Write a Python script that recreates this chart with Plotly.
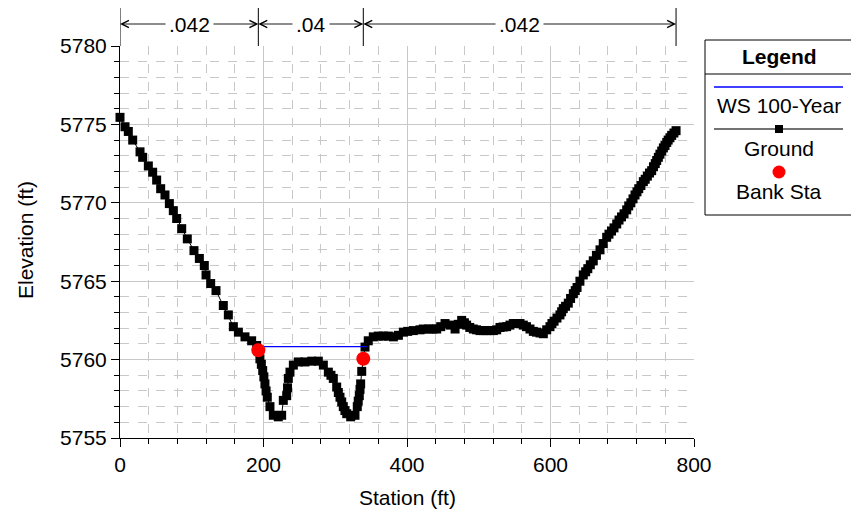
import plotly.graph_objects as go

# ---------------- data ----------------
ground_sta = [0, 7, 11.6, 17.7, 27.9, 31.6, 39.5, 45.5, 51.1, 56.7, 62.7, 68.8, 74.3, 79, 86,
              93.8, 103.1, 110.6, 117.5, 119.9, 126.4, 133.8, 144, 151, 158, 165, 174.2, 183.5,
              190.5, 192.8, 195, 197, 198.9, 200.5, 202, 203.6, 205.3, 209, 213.7, 220.6, 225.3,
              227.6, 232.3, 233.5, 234.6, 236.9, 241.6, 248.5, 257.8, 267.2, 276.4, 283.4, 290.4,
              294, 297.3, 302, 304.3, 306.6, 309, 311.2, 313.5, 316, 321.5, 327.5, 330.7, 332,
              333.5, 334.5, 335.4, 336.9, 339.1, 341.5, 346, 353, 360, 367, 374, 381, 388, 394.9,
              401, 408.8, 418.1, 422.7, 430, 436, 441.4, 447, 453, 460, 467, 471.5, 476.2, 480,
              483.1, 487.5, 492.4, 497, 501.7, 506.5, 511, 515.5, 520.3, 525, 529.6, 534, 538.9,
              543.5, 548.2, 553, 557.5, 562.1, 566.5, 571.4, 576.1, 580.5,
              585.4, 590, 594.7, 599.3, 602, 605, 609, 613.2, 615.5, 617.8, 621, 624.8, 628,
              631.8, 634.5, 637, 641, 645.7, 649, 652, 655.5, 659.6, 664, 669, 673.5, 678.3,
              681.5, 685, 688.5, 692.3, 695.5, 699, 702.5, 706.2, 709, 712, 715, 717.8, 720.5,
              723, 726, 729.4, 732, 735, 738, 741, 743.5, 746, 748, 750.3, 752.5, 755, 757.3,
              759.6, 762, 764, 766.5, 768.9, 772, 775]
ground_elev = [5775.45, 5774.85, 5774.55, 5774.0, 5773.25, 5772.9, 5772.35, 5771.95, 5771.45,
               5770.9, 5770.5, 5769.95, 5769.5, 5769.0, 5768.35, 5767.7, 5766.95, 5766.45,
               5766.0, 5765.4, 5764.85, 5764.4, 5763.45, 5762.85, 5762.1, 5761.75, 5761.45,
               5761.2, 5760.9, 5760.6, 5760.05, 5759.7, 5759.3, 5758.9, 5758.45, 5758.0, 5757.6,
               5757.0, 5756.45, 5756.35, 5756.45, 5757.4, 5757.7, 5758.2, 5758.8, 5759.2,
               5759.65, 5759.85, 5759.85, 5759.9, 5759.9, 5759.65, 5759.2, 5759.0, 5758.8,
               5758.25, 5757.9, 5757.6, 5757.3, 5757.0, 5756.75, 5756.55, 5756.35, 5756.45,
               5757.0, 5757.35, 5757.7, 5758.1, 5758.45, 5759.25, 5760.05, 5760.8, 5761.2,
               5761.45, 5761.5, 5761.5, 5761.5, 5761.45, 5761.55, 5761.75, 5761.8, 5761.85,
               5761.9, 5761.95, 5761.95, 5761.95, 5761.95, 5762.1, 5762.3, 5762.2, 5761.95,
               5762.25, 5762.5, 5762.35, 5762.2, 5762.05, 5761.95, 5761.9, 5761.85, 5761.85,
               5761.85, 5761.85, 5761.85, 5761.9, 5762.05, 5762.08, 5762.1, 5762.2, 5762.3,
               5762.3, 5762.3, 5762.2, 5762.1, 5761.95, 5761.8, 5761.75, 5761.7, 5761.65,
               5761.9, 5762.1, 5762.3, 5762.45, 5762.65, 5762.85, 5763.05, 5763.25, 5763.4,
               5763.6, 5763.9, 5764.2, 5764.4, 5764.6, 5765.0, 5765.4, 5765.6, 5765.8, 5766.05,
               5766.3, 5766.65, 5767.0, 5767.4, 5767.8, 5768.0, 5768.2, 5768.4, 5768.65,
               5768.9, 5769.1, 5769.3, 5769.55, 5769.8, 5770.0, 5770.25, 5770.5, 5770.7,
               5770.9, 5771.1, 5771.35, 5771.5, 5771.7, 5771.9, 5772.05, 5772.3, 5772.5,
               5772.7, 5772.9, 5773.1, 5773.3, 5773.5, 5773.65, 5773.85, 5774.0, 5774.15,
               5774.3, 5774.45, 5774.6]

ws_sta = [192.8, 343.7]
ws_elev = [5760.83, 5760.83]

bank_sta = [192.8, 339.1]
bank_elev = [5760.6, 5760.05]

n_breaks = [0, 192.8, 339.1, 775]
n_values = [".042", ".04", ".042"]

x_ticks = [0, 200, 400, 600, 800]
y_ticks = [5755, 5760, 5765, 5770, 5775, 5780]

legend_labels = ["WS 100-Year", "Ground", "Bank Sta"]

# ---------------- figure ----------------
FONT = "Liberation Sans, Arial, sans-serif"
FS = 21
fig = go.Figure()

fig.add_trace(go.Scatter(x=ground_sta, y=ground_elev, mode="lines+markers",
                         line=dict(color="black", width=1),
                         marker=dict(symbol="square", size=9, color="black"),
                         cliponaxis=False, name="Ground", showlegend=False))
fig.add_trace(go.Scatter(x=ws_sta, y=ws_elev, mode="lines",
                         line=dict(color="#0000ff", width=1.3),
                         name="WS 100-Year", showlegend=False))
fig.add_trace(go.Scatter(x=bank_sta, y=bank_elev, mode="markers",
                         marker=dict(symbol="circle", size=14, color="#ff0000"),
                         cliponaxis=False, name="Bank Sta", showlegend=False))

# page body has an 8px margin, so the figure is shrunk / offset to compensate
OFF = 8
W, H = 851, 509
L, R, T, B = 112, 165, 38, 79
pw, ph = W - L - R, H - T - B
PX0 = OFF + L          # screen x of plot left edge (120)
PY1 = OFF + T + ph     # screen y of plot bottom edge (438)


def px_x(p):  # screen pixel -> paper x
    return (p - PX0) / pw


def px_y(p):  # screen pixel -> paper y
    return (PY1 - p) / ph


axis_common = dict(showline=True, linecolor="black", linewidth=1, mirror=False,
                   ticks="outside", ticklen=8, tickcolor="black", tickwidth=1,
                   showgrid=True, gridcolor="#c8c8c8", gridwidth=1, zeroline=False,
                   tickfont=dict(family=FONT, size=FS, color="black"))

fig.update_xaxes(range=[0, 800], tickvals=x_ticks,
                 minor=dict(dtick=40, showgrid=True, gridcolor="#c8c8c8", griddash="dash",
                            ticks="outside", ticklen=5, tickcolor="black"),
                 **axis_common)
fig.update_yaxes(range=[5755, 5780], tickvals=y_ticks,
                 minor=dict(dtick=1, showgrid=True, gridcolor="#c8c8c8", griddash="dash",
                            ticks="outside", ticklen=5, tickcolor="black"),
                 **axis_common)

shapes = []
annotations = []

# roughness breaks at the top
y_top_line = px_y(3)
y_arrow = px_y(24)
for xb in n_breaks:
    shapes.append(dict(type="line", xref="x", yref="paper", x0=xb, x1=xb, y0=1, y1=y_top_line,
                       line=dict(color="black", width=1)))
for i, val in enumerate(n_values):
    a, b = n_breaks[i], n_breaks[i + 1]
    mid = (a + b) / 2
    for end in (a, b):
        annotations.append(dict(x=end, y=y_arrow, xref="x", yref="paper",
                                ax=mid, ay=0, axref="x", ayref="pixel",
                                text="", showarrow=True, arrowhead=5, arrowsize=1.6,
                                arrowwidth=0.9, arrowcolor="black"))
for i, val in enumerate(n_values):
    mid = (n_breaks[i] + n_breaks[i + 1]) / 2
    annotations.append(dict(x=mid, y=y_arrow, xref="x", yref="paper", text=val,
                            showarrow=False, bgcolor="white", borderpad=3,
                            xanchor="center", yanchor="middle",
                            font=dict(family=FONT, size=FS, color="black")))

# axis titles
annotations.append(dict(x=0.5, y=px_y(497), xref="paper", yref="paper", text="Station (ft)",
                        showarrow=False, xanchor="center", yanchor="middle",
                        font=dict(family=FONT, size=FS, color="black")))
annotations.append(dict(x=px_x(25), y=px_y(240), xref="paper", yref="paper",
                        text="Elevation (ft)", textangle=-90, showarrow=False,
                        xanchor="center", yanchor="middle",
                        font=dict(family=FONT, size=FS, color="black")))

# custom legend box
bx0, bx1, by0, by1 = px_x(705), px_x(853), px_y(40), px_y(215)
cx = px_x(779)
shapes.append(dict(type="rect", xref="paper", yref="paper", x0=bx0, x1=bx1, y0=by1, y1=by0,
                   line=dict(color="black", width=1), fillcolor="white", layer="below"))
shapes.append(dict(type="line", xref="paper", yref="paper", x0=bx0, x1=bx1,
                   y0=px_y(74), y1=px_y(74), line=dict(color="black", width=1)))
annotations.append(dict(x=cx, y=px_y(57), xref="paper", yref="paper", text="<b>Legend</b>",
                        showarrow=False, xanchor="center", yanchor="middle",
                        font=dict(family=FONT, size=FS, color="black")))
# WS line
shapes.append(dict(type="line", xref="paper", yref="paper", x0=px_x(714), x1=px_x(843),
                   y0=px_y(87), y1=px_y(87), line=dict(color="#0000ff", width=1.3)))
# Ground line + square
shapes.append(dict(type="line", xref="paper", yref="paper", x0=px_x(714), x1=px_x(843),
                   y0=px_y(129), y1=px_y(129), line=dict(color="#444444", width=1.5)))
shapes.append(dict(type="rect", xref="paper", yref="paper", xsizemode="pixel", ysizemode="pixel",
                   xanchor=cx, yanchor=px_y(129), x0=-4, x1=4, y0=-4, y1=4,
                   fillcolor="black", line=dict(width=0)))
# Bank dot
shapes.append(dict(type="circle", xref="paper", yref="paper", xsizemode="pixel", ysizemode="pixel",
                   xanchor=cx, yanchor=px_y(172), x0=-6.5, x1=6.5, y0=-6.5, y1=6.5,
                   fillcolor="#ff0000", line=dict(width=0)))
for lab, py in zip(legend_labels, [106, 148, 191]):
    annotations.append(dict(x=cx, y=px_y(py), xref="paper", yref="paper", text=lab,
                            showarrow=False, xanchor="center", yanchor="middle",
                            font=dict(family=FONT, size=FS, color="black")))

fig.update_layout(width=W, height=H, margin=dict(l=L, r=R, t=T, b=B, pad=0),
                  paper_bgcolor="white", plot_bgcolor="white", showlegend=False,
                  shapes=shapes, annotations=annotations,
                  font=dict(family=FONT, size=FS, color="black"))

fig.write_html("out.html")
